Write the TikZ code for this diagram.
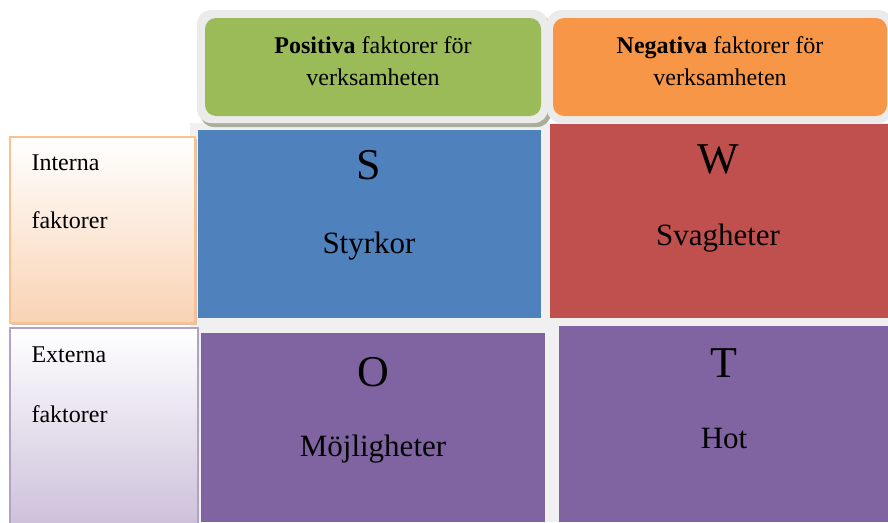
\documentclass[tikz,border=0pt]{standalone}
\usepackage{fontspec}
\setmainfont{Liberation Serif}
\newfontfamily\swotfont{Liberation Serif}
\definecolor{swotgreen}{HTML}{9BBB59}
\definecolor{swotorange}{HTML}{F79646}
\definecolor{swotblue}{HTML}{4F81BD}
\definecolor{swotred}{HTML}{C0504D}
\definecolor{swotpurple}{HTML}{8064A2}
\definecolor{backgray}{HTML}{F0F0F0}
\definecolor{framegray}{HTML}{EBEBEB}
\definecolor{shadowgray}{HTML}{A9AF9C}
\definecolor{peachline}{HTML}{FAC090}
\definecolor{peachfill}{HTML}{F9D3B4}
\definecolor{lilacline}{HTML}{B3A2C7}
\definecolor{lilacfill}{HTML}{CCC0DA}
\begin{document}
\begin{tikzpicture}[x=1pt,y=-1pt,
  cell/.style={fill=#1, inner sep=0pt},
  big/.style={font=\swotfont\fontsize{44}{48}\selectfont, anchor=base},
  lbl/.style={font=\swotfont\fontsize{31}{36}\selectfont, anchor=base},
  hdr/.style={font=\swotfont\fontsize{24}{32}\selectfont, align=center},
  side/.style={font=\swotfont\fontsize{24}{28}\selectfont, anchor=base west}]
\useasboundingbox (0,0) rectangle (888,522);
% grey backdrop behind the grid
\fill[backgray] (190,123) rectangle (888,522);

% column headers
\fill[shadowgray, rounded corners=14pt] (200,14) rectangle (551,127);
\fill[framegray, rounded corners=14pt] (197,10) rectangle (548,123);
\node[cell=swotgreen, rounded corners=11pt, minimum width=336pt, minimum height=98pt] (pos) at (373,67) {};
\node[hdr] (postext) at (373,61) {\textbf{Positiva} faktorer för\\verksamheten};

\fill[framegray, rounded corners=14pt] (547,10) rectangle (893,123);
\node[cell=swotorange, rounded corners=11pt, minimum width=334pt, minimum height=98pt] (neg) at (720,67) {};
\node[hdr] (negtext) at (720,61) {\textbf{Negativa} faktorer för\\verksamheten};

% row headers
\fill[peachline!80!black!60] (12,139) rectangle (197,325);
\node[draw=peachline, line width=2pt, top color=white, bottom color=peachfill,
  minimum width=185pt, minimum height=186pt, inner sep=0pt] (int) at (102.5,230) {};
\node[side] (inttop) at (28,170) {Interna};
\node[side] (intbot) at (28,228) {faktorer};

\node[draw=lilacline, line width=2pt, top color=white, bottom color=lilacfill,
  minimum width=188pt, minimum height=200pt, inner sep=0pt] (ext) at (104,428) {};
\node[side] (exttop) at (28,362) {Externa};
\node[side] (extbot) at (28,422) {faktorer};

% the four cells
\node[cell=swotblue, minimum width=343pt, minimum height=188pt] (s) at (369.5,224) {};
\node[big] (sletter) at (369,179) {S};
\node[lbl] (slabel) at (369,253) {Styrkor};

\node[cell=swotred, minimum width=338pt, minimum height=194pt] (w) at (719,221) {};
\node[big] (wletter) at (718,173) {W};
\node[lbl] (wlabel) at (718,245) {Svagheter};

\node[cell=swotpurple, minimum width=344pt, minimum height=189pt] (o) at (373,427.5) {};
\node[big] (oletter) at (373,386) {O};
\node[lbl] (olabel) at (373,456) {Möjligheter};

\node[cell=swotpurple, minimum width=329pt, minimum height=196pt] (t) at (723.5,424) {};
\node[big] (tletter) at (724,377) {T};
\node[lbl] (tlabel) at (724,448) {Hot};
\end{tikzpicture}
\end{document}
